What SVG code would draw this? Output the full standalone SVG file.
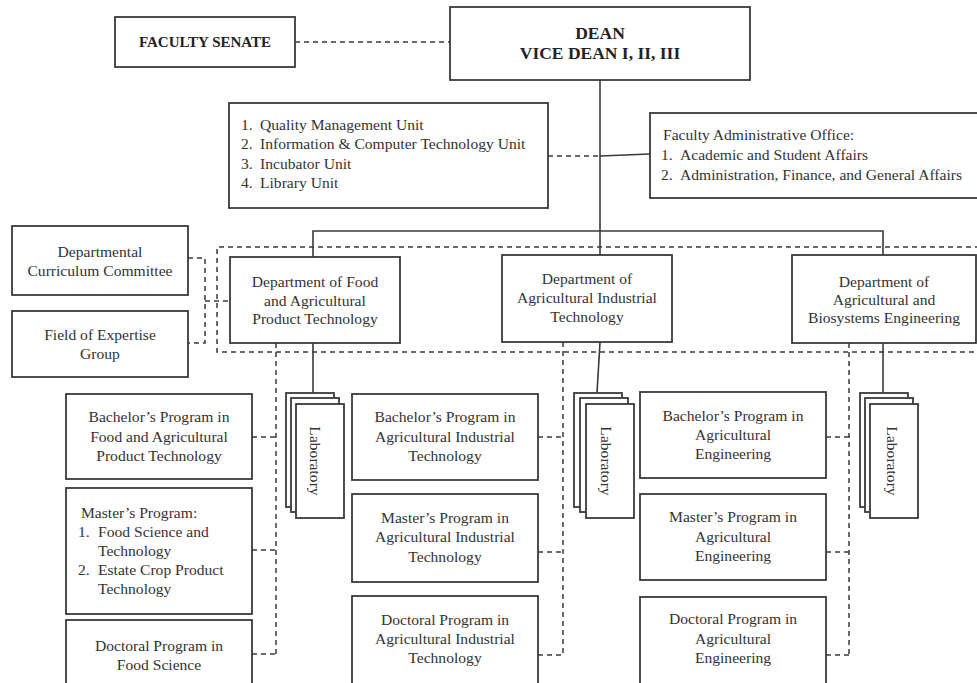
<svg xmlns="http://www.w3.org/2000/svg" width="977" height="683" viewBox="0 0 977 683">
<style>
.box{fill:#fff;stroke:#3a3a3a;stroke-width:1.8}
.t{font-family:"Liberation Serif","Times New Roman",serif;font-size:15.6px;fill:#333}
.c{text-anchor:middle}
.b{font-weight:bold;fill:#222}
.solid{fill:none;stroke:#3a3a3a;stroke-width:1.6}
.dash{fill:none;stroke:#3a3a3a;stroke-width:1.5;stroke-dasharray:5,4}
</style>
<rect width="977" height="683" fill="#fff"/>
<g id="connectors">
<path class="dash" d="M295,42 H450"/>
<path class="solid" d="M600,80 V256"/>
<path class="dash" d="M548,156 H600"/>
<path class="solid" d="M600,156 L650,154"/>
<path class="solid" d="M313,257 V231 H883 V255"/>
<path class="dash" d="M980,247 H217 V352 H980"/>
<path class="dash" d="M188,258 H205 V343 H188 M205,301 H230"/>
<path class="solid" d="M313,343 V393"/>
<path class="solid" d="M600,342 L597,393"/>
<path class="solid" d="M883,343 V393"/>
<path class="dash" d="M276,343 V654 M252,437 H276 M252,550 H276 M252,654 H276"/>
<path class="dash" d="M563,342 V655 M538,437 H563 M538,552 H563 M538,655 H563"/>
<path class="dash" d="M849,343 V655 M826,437 H849 M826,552 H849 M826,655 H849"/>
</g>
<g id="faculty-senate">
<rect class="box" x="115" y="17" width="180" height="50"/>
<text class="t c b" style="font-size:15px" x="205" y="47">FACULTY SENATE</text>
</g>
<g id="dean">
<rect class="box" x="450" y="7" width="300" height="73"/>
<text class="t c b" style="font-size:17.5px" x="600" y="39">DEAN</text>
<text class="t c b" style="font-size:17.5px" x="600" y="59">VICE DEAN I, II, III</text>
</g>
<g id="units">
<rect class="box" x="229" y="103" width="319" height="105"/>
<text class="t" x="241" y="130">1.</text><text class="t" x="260" y="130">Quality Management Unit</text>
<text class="t" x="241" y="149">2.</text><text class="t" x="260" y="149">Information &amp; Computer Technology Unit</text>
<text class="t" x="241" y="169">3.</text><text class="t" x="260" y="169">Incubator Unit</text>
<text class="t" x="241" y="188">4.</text><text class="t" x="260" y="188">Library Unit</text>
</g>
<g id="admin-office">
<rect class="box" x="650" y="113" width="340" height="85"/>
<text class="t" x="663" y="140">Faculty Administrative Office:</text>
<text class="t" x="661" y="160">1.</text><text class="t" x="680" y="160">Academic and Student Affairs</text>
<text class="t" x="661" y="180">2.</text><text class="t" x="680" y="180">Administration, Finance, and General Affairs</text>
</g>
<g id="curriculum-committee">
<rect class="box" x="12" y="226" width="176" height="69"/>
<text class="t c" x="100" y="257">Departmental</text>
<text class="t c" x="100" y="276">Curriculum Committee</text>
</g>
<g id="expertise-group">
<rect class="box" x="12" y="311" width="176" height="66"/>
<text class="t c" x="100" y="340">Field of Expertise</text>
<text class="t c" x="100" y="359">Group</text>
</g>
<g id="dept-food">
<rect class="box" x="230" y="257" width="170" height="86"/>
<text class="t c" x="315" y="287">Department of Food</text>
<text class="t c" x="315" y="306">and Agricultural</text>
<text class="t c" x="315" y="324">Product Technology</text>
</g>
<g id="dept-industrial">
<rect class="box" x="502" y="255" width="170" height="87"/>
<text class="t c" x="587" y="284">Department of</text>
<text class="t c" x="587" y="303">Agricultural Industrial</text>
<text class="t c" x="587" y="322">Technology</text>
</g>
<g id="dept-engineering">
<rect class="box" x="792" y="255" width="184" height="88"/>
<text class="t c" x="884" y="287">Department of</text>
<text class="t c" x="884" y="305">Agricultural and</text>
<text class="t c" x="884" y="323">Biosystems Engineering</text>
</g>
<g id="lab-1">
<rect class="box" x="286" y="393" width="48" height="114"/>
<rect class="box" x="291" y="398" width="48" height="114"/>
<rect class="box" x="296" y="404" width="48" height="114"/>
<text class="t c" transform="translate(315,461) rotate(90)" y="5">Laboratory</text>
</g>
<g id="lab-2">
<rect class="box" x="574" y="393" width="48" height="114"/>
<rect class="box" x="580" y="398" width="48" height="114"/>
<rect class="box" x="586" y="404" width="48" height="114"/>
<text class="t c" transform="translate(606,461) rotate(90)" y="5">Laboratory</text>
</g>
<g id="lab-3">
<rect class="box" x="860" y="393" width="48" height="114"/>
<rect class="box" x="865" y="398" width="48" height="114"/>
<rect class="box" x="870" y="404" width="48" height="114"/>
<text class="t c" transform="translate(892,461) rotate(90)" y="5">Laboratory</text>
</g>
<g id="bachelor-food">
<rect class="box" x="66" y="394" width="186" height="85"/>
<text class="t c" x="159" y="422">Bachelor’s Program in</text>
<text class="t c" x="159" y="442">Food and Agricultural</text>
<text class="t c" x="159" y="461">Product Technology</text>
</g>
<g id="master-food">
<rect class="box" x="66" y="488" width="186" height="126"/>
<text class="t" x="81" y="518">Master’s Program:</text>
<text class="t" x="78" y="537">1.</text><text class="t" x="98" y="537">Food Science and</text>
<text class="t" x="98" y="556">Technology</text>
<text class="t" x="78" y="575">2.</text><text class="t" x="98" y="575">Estate Crop Product</text>
<text class="t" x="98" y="594">Technology</text>
</g>
<g id="doctoral-food">
<rect class="box" x="66" y="620" width="186" height="75"/>
<text class="t c" x="159" y="651">Doctoral Program in</text>
<text class="t c" x="159" y="670">Food Science</text>
</g>
<g id="bachelor-industrial">
<rect class="box" x="352" y="394" width="186" height="86"/>
<text class="t c" x="445" y="422">Bachelor’s Program in</text>
<text class="t c" x="445" y="442">Agricultural Industrial</text>
<text class="t c" x="445" y="461">Technology</text>
</g>
<g id="master-industrial">
<rect class="box" x="352" y="494" width="186" height="88"/>
<text class="t c" x="445" y="523">Master’s Program in</text>
<text class="t c" x="445" y="542">Agricultural Industrial</text>
<text class="t c" x="445" y="562">Technology</text>
</g>
<g id="doctoral-industrial">
<rect class="box" x="352" y="596" width="186" height="100"/>
<text class="t c" x="445" y="625">Doctoral Program in</text>
<text class="t c" x="445" y="644">Agricultural Industrial</text>
<text class="t c" x="445" y="663">Technology</text>
</g>
<g id="bachelor-engineering">
<rect class="box" x="640" y="392" width="186" height="86"/>
<text class="t c" x="733" y="421">Bachelor’s Program in</text>
<text class="t c" x="733" y="440">Agricultural</text>
<text class="t c" x="733" y="459">Engineering</text>
</g>
<g id="master-engineering">
<rect class="box" x="640" y="494" width="186" height="86"/>
<text class="t c" x="733" y="522">Master’s Program in</text>
<text class="t c" x="733" y="542">Agricultural</text>
<text class="t c" x="733" y="561">Engineering</text>
</g>
<g id="doctoral-engineering">
<rect class="box" x="640" y="597" width="186" height="100"/>
<text class="t c" x="733" y="624">Doctoral Program in</text>
<text class="t c" x="733" y="644">Agricultural</text>
<text class="t c" x="733" y="663">Engineering</text>
</g>
</svg>
